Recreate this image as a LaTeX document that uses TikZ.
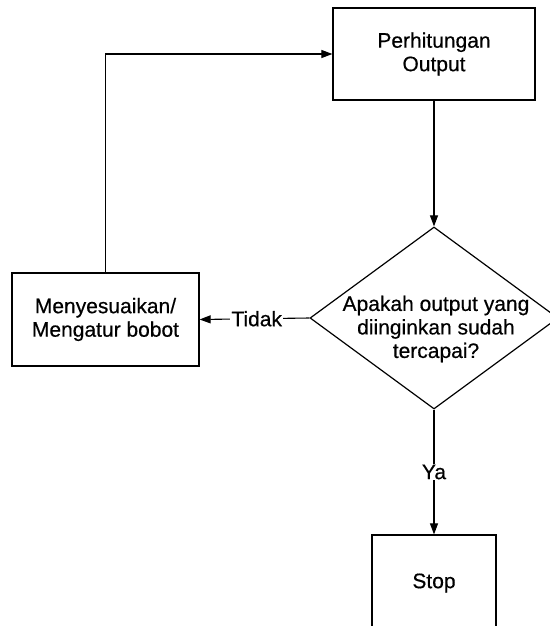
\documentclass[tikz,border=0pt]{standalone}
\usepackage{fontspec}
\setmainfont{Liberation Sans}
\newfontfamily\diagfont{Liberation Sans}[FakeBold=0.5]
\usetikzlibrary{shapes.geometric,arrows.meta}
\begin{document}
\begin{tikzpicture}[x=1pt,y=-1pt,
  every node/.style={font=\diagfont\fontsize{21}{23.5}\selectfont},
  box/.style={draw,line width=1.2pt,inner sep=0pt,align=center},
  conn/.style={line width=1.1pt},
  arr/.style={conn,-{Triangle[length=11pt,width=8pt]}},
  lbl/.style={fill=white,inner sep=1pt}]
\useasboundingbox (0,0) rectangle (549,626);
\node[box,minimum width=202pt,minimum height=92pt] (out) at (434,54) {Perhitungan\\Output};
\node[box,minimum width=187pt,minimum height=93pt] (adj) at (105.5,319.5) {Menyesuaikan/\\Mengatur bobot};
\node[draw,line width=1.2pt,diamond,inner sep=0pt,minimum width=248pt,minimum height=182pt] (dec) at (434,318) {};
\node[align=center] (dect) at (436,329) {Apakah output yang\\diinginkan sudah\\tercapai?};
\node[box,minimum width=124pt,minimum height=96pt] (stop) at (434,583) {Stop};
\draw[arr] (out.south) -- (dec.north);
\draw[arr] (dec.west) -- node[lbl,pos=0.48] (tidak) {Tidak} (adj.east);
\draw[arr] (adj.north) |- (out.west);
\draw[arr] (dec.south) -- node[lbl,pos=0.5] (ya) {Ya} (stop.north);
\end{tikzpicture}
\end{document}
